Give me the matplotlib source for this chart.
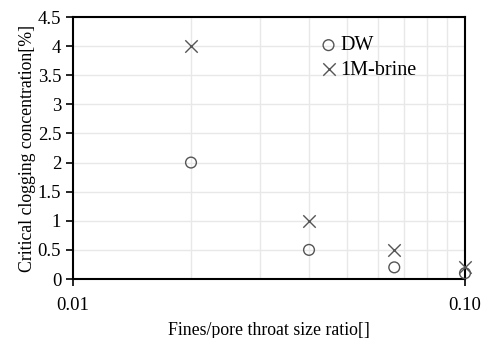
import matplotlib
matplotlib.use("Agg")
import matplotlib.pyplot as plt
from matplotlib.ticker import NullFormatter, LogLocator

plt.rcParams['font.family'] = ['Liberation Serif', 'DejaVu Serif']

ratio = [0.02, 0.04, 0.066, 0.1]
dw = [2.0, 0.5, 0.2, 0.1]
brine = [4.0, 1.0, 0.5, 0.2]
xticks = [0.01, 0.1]
xticklabels = ["0.01", "0.10"]
yticks = [0, 0.5, 1, 1.5, 2, 2.5, 3, 3.5, 4, 4.5]
yticklabels = ["0", "0.5", "1", "1.5", "2", "2.5", "3", "3.5", "4", "4.5"]

fig = plt.figure(figsize=(4.86, 3.38), dpi=100)
ax = fig.add_axes([73/486, 1-279/338, (465-73)/486, (279-17)/338])

ax.scatter(ratio, dw, marker='o', s=60, facecolors='none', edgecolors='#555555', linewidths=1.0, label='DW', zorder=3, clip_on=False)
ax.scatter(ratio, brine, marker='x', s=80, color='#555555', linewidths=1.0, label='1M-brine', zorder=3, clip_on=False)

ax.set_xscale('log')
ax.set_xlim(0.01, 0.1)
ax.set_ylim(0, 4.5)
ax.set_xticks(xticks)
ax.set_xticklabels(xticklabels)
ax.xaxis.set_minor_locator(LogLocator(base=10, subs=range(2, 10)))
ax.xaxis.set_minor_formatter(NullFormatter())
ax.set_yticks(yticks)
ax.set_yticklabels(yticklabels)

ax.grid(True, which='major', axis='y', color='#e8e8e8', linewidth=1.0)
ax.grid(True, which='minor', axis='x', color='#e8e8e8', linewidth=1.0)
ax.set_axisbelow(True)

ax.tick_params(axis='both', which='major', direction='out', length=5, width=1.2, labelsize=13.5, colors='black')
ax.tick_params(axis='x', which='minor', length=0)
ax.tick_params(axis='x', which='major', pad=8)
for s in ax.spines.values():
    s.set_linewidth(1.5)
    s.set_color('black')

ax.set_xlabel('Fines/pore throat size ratio[]', fontsize=12.8, labelpad=6)
ax.set_ylabel('Critical clogging concentration[%]', fontsize=12.8, labelpad=1)

ax.legend(loc='upper left', bbox_to_anchor=(0.585, 0.98), frameon=False, fontsize=14.5,
          handletextpad=0.0, labelspacing=0.25, borderpad=0.2, handlelength=1.2)

fig.savefig('out.png', dpi=100)
